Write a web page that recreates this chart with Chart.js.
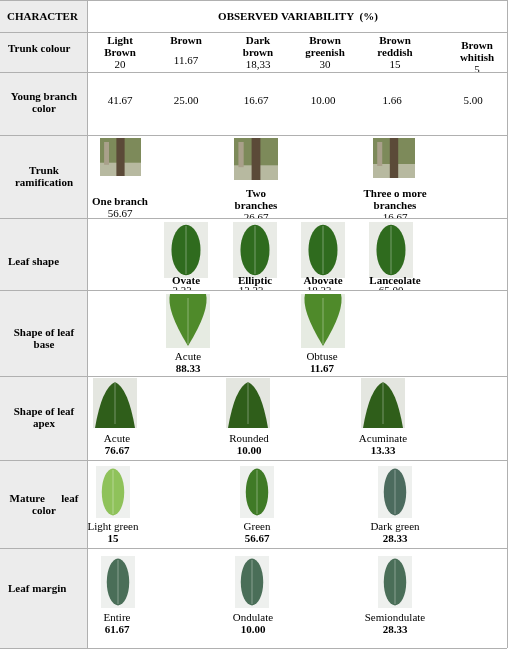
<!DOCTYPE html>
<html><head><meta charset="utf-8">
<script src="https://cdn.jsdelivr.net/npm/chart.js@4"></script>
<style>body{margin:0;background:#fff}canvas{display:block}</style>
</head><body>
<canvas id="c" width="509" height="653"></canvas>
<script>
// --- data ---
const characters = ['Trunk colour', 'Young branch\ncolor', 'Trunk\nramification', 'Leaf shape',
  'Shape of leaf\nbase', 'Shape of leaf\napex', 'Mature      leaf\ncolor', 'Leaf margin'];
const trunkColours = ['Light\nBrown', 'Brown', 'Dark\nbrown', 'Brown\ngreenish', 'Brown\nreddish', 'Brown\nwhitish'];
const trunkColourValues = ['20', '11.67', '18,33', '30', '15', '5'];
const youngBranchValues = ['41.67', '25.00', '16.67', '10.00', '1.66', '5.00'];
const ramifications = ['One branch', 'Two\nbranches', 'Three o more\nbranches'];
const ramificationValues = ['56.67', '26.67', '16.67'];
const leafShapes = ['Ovate', 'Elliptic', 'Abovate', 'Lanceolate'];
const leafShapeValues = ['3.33', '13.33', '18.33', '65.00'];
const leafBases = ['Acute', 'Obtuse'];
const leafBaseValues = ['88.33', '11.67'];
const leafApexes = ['Acute', 'Rounded', 'Acuminate'];
const leafApexValues = ['76.67', '10.00', '13.33'];
const matureColors = ['Light green', 'Green', 'Dark green'];
const matureColorValues = ['15', '56.67', '28.33'];
const leafMargins = ['Entire', 'Ondulate', 'Semiondulate'];
const leafMarginValues = ['61.67', '10.00', '28.33'];

// --- layout ---
const rowLines = [0, 32, 72, 135, 218, 290, 376, 460, 548, 648];
const labelY = [52, 100, 174, 265, 336, 415, 502, 592];
const serif = 'Liberation Serif, Times New Roman, serif';

function txt(ctx, s, x, y, bold, size, align) {
  ctx.font = (bold ? 'bold ' : '') + (size || 11) + 'px ' + serif;
  ctx.textAlign = align || 'center';
  ctx.fillStyle = '#000';
  s.split('\n').forEach((l, i) => ctx.fillText(l, x, y + i * 12));
}
function leafPic(ctx, x, y, w, h, col, bg, shape) {
  ctx.fillStyle = bg; ctx.fillRect(x, y, w, h);
  ctx.fillStyle = col;
  ctx.beginPath();
  if (shape === 'apex') {
    ctx.moveTo(x + 2, y + h); ctx.quadraticCurveTo(x + w * 0.2, y + h * 0.2, x + w / 2, y + 4);
    ctx.quadraticCurveTo(x + w * 0.8, y + h * 0.2, x + w - 2, y + h);
  } else if (shape === 'base') {
    ctx.moveTo(x + w / 2, y + h - 2); ctx.quadraticCurveTo(x, y + h * 0.3, x + 4, y);
    ctx.lineTo(x + w - 4, y); ctx.quadraticCurveTo(x + w, y + h * 0.3, x + w / 2, y + h - 2);
  } else {
    ctx.ellipse(x + w / 2, y + h / 2, w * 0.33, h * 0.45, 0, 0, Math.PI * 2);
  }
  ctx.fill();
  ctx.strokeStyle = 'rgba(255,255,255,0.35)'; ctx.lineWidth = 1;
  ctx.beginPath(); ctx.moveTo(x + w / 2, y + 4); ctx.lineTo(x + w / 2, y + h - 4); ctx.stroke();
}
function treePic(ctx, x, y, w, h) {
  ctx.fillStyle = '#7d8a5a'; ctx.fillRect(x, y, w, h);
  ctx.fillStyle = '#b7b9a0'; ctx.fillRect(x, y + h * 0.65, w, h * 0.35);
  ctx.fillStyle = '#5b4a38'; ctx.fillRect(x + w * 0.4, y, w * 0.2, h);
  ctx.fillStyle = '#a9a08a'; ctx.fillRect(x + w * 0.1, y + 4, w * 0.12, h * 0.6);
}

const tablePlugin = {
  id: 'table',
  afterDraw(chart) {
    const ctx = chart.ctx, sx = chart.scales.x, sy = chart.scales.y;
    const X = v => sx.getPixelForValue(v), Y = v => sy.getPixelForValue(v);
    ctx.save();
    ctx.fillStyle = '#ececec';
    ctx.fillRect(X(0), Y(0), X(87) - X(0), Y(648) - Y(0));
    ctx.strokeStyle = '#b0b0b0'; ctx.lineWidth = 1;
    rowLines.forEach(r => { ctx.beginPath(); ctx.moveTo(X(0), Y(r) + 0.5); ctx.lineTo(X(507), Y(r) + 0.5); ctx.stroke(); });
    ctx.beginPath(); ctx.moveTo(X(87) + 0.5, Y(0)); ctx.lineTo(X(87) + 0.5, Y(648)); ctx.stroke();
    ctx.beginPath(); ctx.moveTo(X(507) + 0.5, Y(0)); ctx.lineTo(X(507) + 0.5, Y(648)); ctx.stroke();

    txt(ctx, 'CHARACTER', X(7), Y(20), true, 11, 'left');
    txt(ctx, 'OBSERVED VARIABILITY  (%)', X(298), Y(20), true, 11);
    characters.forEach((c, i) => {
      const single = !c.includes('\n');
      txt(ctx, c, single ? X(8) : X(44), Y(labelY[i]), true, 11, single ? 'left' : 'center');
    });

    const clipRow = (r, fn) => { ctx.save(); ctx.beginPath(); ctx.rect(X(88), Y(rowLines[r]) + 1, X(507) - X(88), Y(rowLines[r + 1]) - Y(rowLines[r]) - 1); ctx.clip(); fn(); ctx.restore(); };

    clipRow(1, () => {
      const xs = [120, 186, 258, 325, 395, 477], ys = [44, 44, 44, 44, 44, 49];
      trunkColours.forEach((n, i) => {
        txt(ctx, n, X(xs[i]), Y(ys[i]), true);
        const lines = n.split('\n').length;
        txt(ctx, trunkColourValues[i], X(xs[i]), Y(lines === 1 ? 64 : ys[i] + 24), false);
      });
    });
    clipRow(2, () => {
      [120, 186, 256, 323, 392, 473].forEach((x, i) => txt(ctx, youngBranchValues[i], X(x), Y(104), false));
    });
    clipRow(3, () => {
      [[100, 138, 41, 38], [234, 138, 44, 42], [373, 138, 42, 40]].forEach(p => treePic(ctx, X(p[0]), Y(p[1]), p[2], p[3]));
      [[120, 205], [256, 197], [395, 197]].forEach((p, i) => {
        txt(ctx, ramifications[i], X(p[0]), Y(p[1]), true);
        txt(ctx, ramificationValues[i], X(p[0]), Y(p[1] + (i ? 24 : 12)), false);
      });
    });
    clipRow(4, () => {
      [164, 233, 301, 369].forEach(x => leafPic(ctx, X(x), Y(222), 44, 56, '#2f6b1e', '#e9ebe6'));
      [186, 255, 323, 395].forEach((x, i) => {
        txt(ctx, leafShapes[i], X(x), Y(284), true);
        txt(ctx, leafShapeValues[i], X(x - 4), Y(294), false);
      });
    });
    clipRow(5, () => {
      [166, 301].forEach(x => leafPic(ctx, X(x), Y(294), 44, 54, '#4f8a2a', '#e6ebe2', 'base'));
      [188, 322].forEach((x, i) => {
        txt(ctx, leafBases[i], X(x), Y(360), false);
        txt(ctx, leafBaseValues[i], X(x), Y(372), true);
      });
    });
    clipRow(6, () => {
      [93, 226, 361].forEach(x => leafPic(ctx, X(x), Y(378), 44, 50, '#2f5e1a', '#e4e6e0', 'apex'));
      [117, 249, 383].forEach((x, i) => {
        txt(ctx, leafApexes[i], X(x), Y(442), false);
        txt(ctx, leafApexValues[i], X(x), Y(454), true);
      });
    });
    clipRow(7, () => {
      const cols = ['#8fc25a', '#3f7a26', '#4c6b5e'];
      [96, 240, 378].forEach((x, i) => leafPic(ctx, X(x), Y(466), 34, 52, cols[i], '#eef0ee'));
      [113, 257, 395].forEach((x, i) => {
        txt(ctx, matureColors[i], X(x), Y(530), false);
        txt(ctx, matureColorValues[i], X(x), Y(542), true);
      });
    });
    clipRow(8, () => {
      [101, 235, 378].forEach(x => leafPic(ctx, X(x), Y(556), 34, 52, '#4a6e58', '#eef0ee'));
      [117, 253, 395].forEach((x, i) => {
        txt(ctx, leafMargins[i], X(x), Y(621), false);
        txt(ctx, leafMarginValues[i], X(x), Y(633), true);
      });
    });
    ctx.restore();
  }
};

new Chart(document.getElementById('c'), {
  type: 'scatter',
  data: { datasets: [] },
  options: {
    responsive: false, animation: false,
    layout: { padding: 0 },
    plugins: { legend: { display: false }, tooltip: { enabled: false } },
    scales: {
      x: { type: 'linear', min: 0, max: 509, display: false },
      y: { type: 'linear', min: 0, max: 653, reverse: true, display: false }
    }
  },
  plugins: [tablePlugin]
});
</script>
</body></html>
